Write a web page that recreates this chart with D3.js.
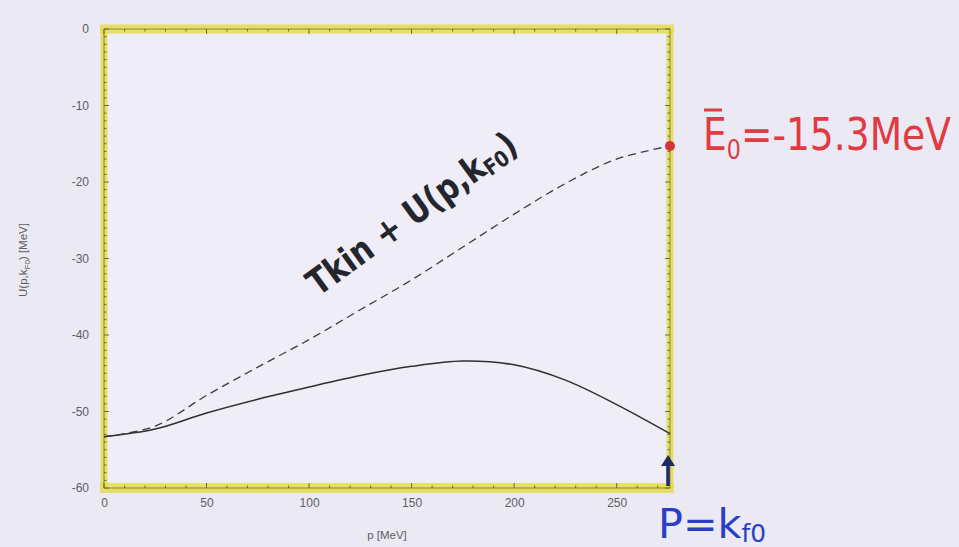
<!DOCTYPE html>
<html>
<head>
<meta charset="utf-8">
<script src="https://cdn.jsdelivr.net/npm/d3@7"></script>
<style>
  html, body { margin: 0; padding: 0; background: #ebe9f4; }
  svg { display: block; }
</style>
</head>
<body>
<svg id="chart" width="959" height="547"></svg>
<script>
// Momentum grid p [MeV]
const momentum = [0, 25, 50, 75, 100, 125, 150, 175, 200, 225, 250, 276];
// Single-particle potential U(p, kF0) [MeV] (solid)
const potential = [-53.3, -52.3, -50.2, -48.4, -46.8, -45.3, -44.1, -43.4, -43.9, -45.9, -49.1, -52.9];
// Tkin + U(p, kF0) [MeV] (dashed)
const totalEnergy = [-53.3, -51.9, -47.9, -44.2, -40.6, -36.7, -32.8, -28.5, -24.2, -20.2, -17.0, -15.3];
// Axis ticks
const xTicks = [0, 50, 100, 150, 200, 250];
const yTicks = [0, -10, -20, -30, -40, -50, -60];
// Fermi momentum and mean energy marked on the plot
const kF0 = 276;
const meanEnergy = -15.3;

const svg = d3.select("#chart");
const x = d3.scaleLinear().domain([0, 276]).range([104, 670]);
const y = d3.scaleLinear().domain([-60, 0]).range([488, 29]);

// plot area
svg.append("rect")
  .attr("x", x(0)).attr("y", y(0))
  .attr("width", x(276) - x(0)).attr("height", y(-60) - y(0))
  .attr("fill", "#efedf7");

// yellow highlighter on the frame
const hl = svg.append("g").attr("stroke", "#e6dc4e").attr("stroke-opacity", 0.85).attr("fill", "none");
hl.append("line").attr("x1", x(0) - 4).attr("x2", x(276) + 4).attr("y1", y(0)).attr("y2", y(0)).attr("stroke-width", 9);
hl.append("line").attr("x1", x(0) - 4).attr("x2", x(276) + 4).attr("y1", y(-60)).attr("y2", y(-60)).attr("stroke-width", 10);
hl.append("line").attr("x1", x(0)).attr("x2", x(0)).attr("y1", y(0)).attr("y2", y(-60)).attr("stroke-width", 7);
hl.append("line").attr("x1", x(276)).attr("x2", x(276)).attr("y1", y(0)).attr("y2", y(-60)).attr("stroke-width", 7);

// frame line
svg.append("rect")
  .attr("x", x(0)).attr("y", y(0))
  .attr("width", x(276) - x(0)).attr("height", y(-60) - y(0))
  .attr("fill", "none").attr("stroke", "#8d8634").attr("stroke-width", 1);

// minor ticks on the frame
const tickG = svg.append("g").attr("stroke", "#6f6a2c").attr("stroke-width", 1);
d3.range(-60, 1, 1).forEach(v => {
  const len = v % 10 === 0 ? 5 : 2.5;
  tickG.append("line").attr("x1", x(0)).attr("x2", x(0) + len).attr("y1", y(v)).attr("y2", y(v));
  tickG.append("line").attr("x1", x(276)).attr("x2", x(276) - len).attr("y1", y(v)).attr("y2", y(v));
});
d3.range(0, 276, 10).forEach(v => {
  const len = v % 50 === 0 ? 5 : 2.5;
  tickG.append("line").attr("x1", x(v)).attr("x2", x(v)).attr("y1", y(-60)).attr("y2", y(-60) - len);
  tickG.append("line").attr("x1", x(v)).attr("x2", x(v)).attr("y1", y(0)).attr("y2", y(0) + len);
});

// tick labels via d3 axes (tick lines hidden, labels kept)
const xAxis = svg.append("g").attr("transform", `translate(0,${y(-60)})`)
  .call(d3.axisBottom(x).tickValues(xTicks).tickSize(0).tickPadding(10));
const yAxis = svg.append("g").attr("transform", `translate(${x(0)},0)`)
  .call(d3.axisLeft(y).tickValues(yTicks).tickSize(0).tickPadding(15).tickFormat(d3.format("d")));
[xAxis, yAxis].forEach(a => {
  a.select(".domain").remove();
  a.selectAll("text").attr("font-family", "Liberation Sans, Arial, sans-serif")
    .attr("font-size", 12).attr("fill", "#5e5e66");
});
yAxis.selectAll("text").text(d => d === 0 ? "0" : "-" + Math.abs(d));

svg.append("text")
  .attr("x", 387).attr("y", 539).attr("text-anchor", "middle")
  .attr("font-family", "Liberation Sans, Arial, sans-serif").attr("font-size", 11.5).attr("fill", "#5e5e66")
  .text("p [MeV]");

const yl = svg.append("text")
  .attr("transform", "translate(27,260) rotate(-90)").attr("text-anchor", "middle")
  .attr("font-family", "Liberation Sans, Arial, sans-serif").attr("font-size", 11.5).attr("fill", "#5e5e66");
yl.append("tspan").text("U(p,k");
yl.append("tspan").attr("font-size", 8).attr("dy", 3).text("F0");
yl.append("tspan").attr("dy", -3).text(") [MeV]");

// curves
const line = d3.line().x((d, i) => x(momentum[i])).y(d => y(d)).curve(d3.curveCatmullRom.alpha(0.5));
svg.append("path").datum(potential).attr("d", line)
  .attr("fill", "none").attr("stroke", "#2e2e36").attr("stroke-width", 1.5);
svg.append("path").datum(totalEnergy).attr("d", line)
  .attr("fill", "none").attr("stroke", "#3c3c46").attr("stroke-width", 1.3)
  .attr("stroke-dasharray", "8,5");

// scale a text group horizontally so it spans a given width
function fitWidth(g, width) {
  const b = g.node().getBBox();
  const sx = width / b.width;
  g.attr("data-sx", sx);
  return sx;
}

// handwritten curve label
const hwG = svg.append("g").attr("transform", "translate(318,297) rotate(-36)");
const hwIn = hwG.append("g");
const hw = hwIn.append("text")
  .attr("font-family", "DejaVu Sans, sans-serif").attr("font-size", 36).attr("font-weight", "bold")
  .attr("fill", "#25252d");
hw.append("tspan").text("Tkin + U(p,k");
hw.append("tspan").attr("font-size", 22).attr("dy", 4).text("F0");
hw.append("tspan").attr("dy", -4).text(")");
hwIn.attr("transform", `scale(${fitWidth(hwIn, 250)},1)`);

// mean energy marker
svg.append("circle").attr("cx", x(kF0)).attr("cy", y(meanEnergy)).attr("r", 5).attr("fill", "#d8323a");
const etG = svg.append("g");
const et = etG.append("text")
  .attr("font-family", "DejaVu Sans, sans-serif").attr("font-size", 44)
  .attr("fill", "#e03a42");
et.append("tspan").text("E");
et.append("tspan").attr("font-size", 26).attr("dy", 9).text("0");
et.append("tspan").attr("dy", -9).text("=-15.3MeV");
const esx = fitWidth(etG, 248);
etG.attr("transform", `translate(703,150) scale(${esx},1)`);
svg.append("line").attr("x1", 704).attr("x2", 722).attr("y1", 110).attr("y2", 110)
  .attr("stroke", "#e03a42").attr("stroke-width", 3);

// Fermi momentum marker
const ay = y(-60);
svg.append("line").attr("x1", x(kF0) - 2).attr("x2", x(kF0) - 2).attr("y1", ay - 2).attr("y2", ay - 24)
  .attr("stroke", "#1e2a66").attr("stroke-width", 3.5);
svg.append("path")
  .attr("d", `M${x(kF0) - 9},${ay - 22} L${x(kF0) - 2},${ay - 33} L${x(kF0) + 5},${ay - 22} Z`)
  .attr("fill", "#1e2a66");
const ptG = svg.append("g");
const pt = ptG.append("text")
  .attr("font-family", "DejaVu Sans, sans-serif").attr("font-size", 40)
  .attr("fill", "#2b3fc6");
pt.append("tspan").text("P=k");
pt.append("tspan").attr("font-size", 24).attr("dy", 4).text("f0");
const psx = fitWidth(ptG, 108);
ptG.attr("transform", `translate(658,538) scale(${psx},1)`);
</script>
</body>
</html>
